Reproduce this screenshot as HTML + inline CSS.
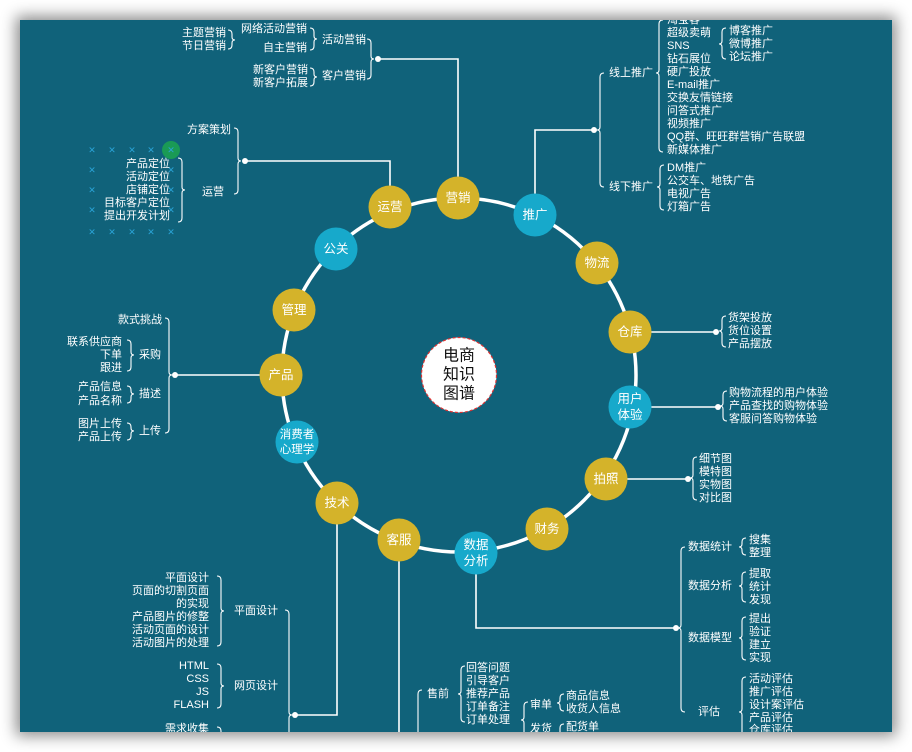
<!DOCTYPE html>
<html><head><meta charset="utf-8"><style>
html,body{margin:0;padding:0;background:#fff;width:912px;height:752px;overflow:hidden;}
#wrap{position:relative;width:912px;height:752px;overflow:hidden;background:#fff;}
#panel{position:absolute;left:20px;top:20px;width:872px;height:712px;background:#10627a;box-shadow:0 0 14px 4px rgba(0,0,0,0.45);}
svg{position:absolute;left:0;top:0;display:block;}
text{font-family:"Liberation Sans","Noto Sans CJK SC",sans-serif;fill:#fff;font-size:11px;dominant-baseline:central;}
.n{font-size:12.5px;text-anchor:middle;}
.e{text-anchor:end;}
.l{stroke:#fff;stroke-width:1.6;fill:none;}
.b{stroke:#fff;stroke-width:1.1;fill:none;}
.x{fill:#2aa3d6;font-size:9px;text-anchor:middle;}
</style></head><body><div id="wrap"><div id="panel"></div>
<svg width="912" height="752" viewBox="0 0 912 752">
<defs><clipPath id="c"><rect x="20" y="20" width="872" height="712"/></clipPath></defs>
<g clip-path="url(#c)">
<path class="l" d="M458 177 V59 H378"/>
<path class="l" d="M390 186 V161 H245"/>
<path class="l" d="M535 194 V130 H594"/>
<path class="l" d="M651 332 H716"/>
<path class="l" d="M651 407 H718"/>
<path class="l" d="M627 479 H688"/>
<path class="l" d="M476 574 V628 H676"/>
<path class="l" d="M260 375 H175"/>
<path class="l" d="M337 524 V715 H295"/>
<path class="l" d="M399 561 V732"/>
<g fill="#fff"><circle cx="378" cy="59" r="3"/><circle cx="245" cy="161" r="3"/><circle cx="594" cy="130" r="3"/><circle cx="716" cy="332" r="3"/><circle cx="718" cy="407" r="3"/><circle cx="688" cy="479" r="3"/><circle cx="676" cy="628" r="3"/><circle cx="175" cy="375" r="3"/><circle cx="295" cy="715" r="3"/></g>
<g class="b">
<path d="M367 39 Q371 39 371 43 L371 56 Q371 59 374 59 Q371 59 371 62 L371 75 Q371 79 367 79"/>
<path d="M310 28 Q314 28 314 32 L314 36 Q314 39 317 39 Q314 39 314 42 L314 46 Q314 50 310 50"/>
<path d="M228 30 Q232 30 232 34 L232 37 Q232 40 235 40 Q232 40 232 43 L232 45 Q232 49 228 49"/>
<path d="M310 68 Q314 68 314 72 L314 74 Q314 77 317 77 Q314 77 314 80 L314 82 Q314 86 310 86"/>
<path d="M234 128 Q238 128 238 132 L238 158 Q238 161 241 161 Q238 161 238 164 L238 190 Q238 194 234 194"/>
<path d="M178 158 Q182 158 182 162 L182 187 Q182 190 185 190 Q182 190 182 193 L182 218 Q182 222 178 222"/>
<path d="M165 318 Q169 318 169 322 L169 372 Q169 375 172 375 Q169 375 169 378 L169 429 Q169 433 165 433"/>
<path d="M127 340 Q131 340 131 344 L131 352 Q131 355 134 355 Q131 355 131 358 L131 367 Q131 371 127 371"/>
<path d="M127 386 Q131 386 131 390 L131 391 Q131 394 134 394 Q131 394 131 397 L131 399 Q131 403 127 403"/>
<path d="M127 423 Q131 423 131 427 L131 428 Q131 431 134 431 Q131 431 131 434 L131 436 Q131 440 127 440"/>
<path d="M285 610 Q289 610 289 614 L289 712 Q289 715 292 715 Q289 715 289 718 L289 732"/>
<path d="M217 576 Q221 576 221 580 L221 608 Q221 611 224 611 Q221 611 221 614 L221 642 Q221 646 217 646"/>
<path d="M217 664 Q221 664 221 668 L221 683 Q221 686 224 686 Q221 686 221 689 L221 704 Q221 708 217 708"/>
<path d="M217 727 Q221 727 221 731 L221 732"/>
</g>
<g class="b">
<path d="M604 73 Q600 73 600 77 L600 127 Q600 130 597 130 Q600 130 600 133 L600 183 Q600 187 604 187"/>
<path d="M663 20 Q659 20 659 24 L659 70 Q659 73 656 73 Q659 73 659 76 L659 148 Q659 152 663 152"/>
<path d="M726 28 Q722 28 722 32 L722 41 Q722 44 719 44 Q722 44 722 47 L722 55 Q722 59 726 59"/>
<path d="M664 165 Q660 165 660 169 L660 184 Q660 187 657 187 Q660 187 660 190 L660 206 Q660 210 664 210"/>
<path d="M726 316 Q722 316 722 320 L722 328 Q722 331 719 331 Q722 331 722 334 L722 343 Q722 347 726 347"/>
<path d="M727 391 Q723 391 723 395 L723 403 Q723 406 720 406 Q723 406 723 409 L723 417 Q723 421 727 421"/>
<path d="M697 457 Q693 457 693 461 L693 475 Q693 478 690 478 Q693 478 693 481 L693 496 Q693 500 697 500"/>
<path d="M685 547 Q681 547 681 551 L681 625 Q681 628 678 628 Q681 628 681 631 L681 708 Q681 712 685 712"/>
<path d="M746 538 Q742 538 742 542 L742 544 Q742 547 739 547 Q742 547 742 550 L742 551 Q742 555 746 555"/>
<path d="M746 572 Q742 572 742 576 L742 583 Q742 586 739 586 Q742 586 742 589 L742 598 Q742 602 746 602"/>
<path d="M746 617 Q742 617 742 621 L742 635 Q742 638 739 638 Q742 638 742 641 L742 656 Q742 660 746 660"/>
<path d="M746 677 Q742 677 742 681 L742 709 Q742 712 739 712 Q742 712 742 715 L742 732"/>
<path d="M422 690 Q418 690 418 694 L418 732"/>
<path d="M465 666 Q461 666 461 670 L461 691 Q461 694 458 694 Q461 694 461 697 L461 718 Q461 722 465 722"/>
<path d="M528 702 Q524 702 524 706 L524 717 Q524 720 521 720 Q524 720 524 723 L524 732"/>
<path d="M564 694 Q560 694 560 698 L560 700 Q560 703 557 703 Q560 703 560 706 L560 707 Q560 711 564 711"/>
<path d="M564 724 Q560 724 560 728 L560 732"/>
</g>
<circle cx="459" cy="375" r="177" stroke="#fff" stroke-width="3.5" fill="none"/>
<g>
<circle cx="458" cy="198" r="21.5" fill="#d4b32a"/><text class="n" x="458" y="198">营销</text>
<circle cx="390" cy="207" r="21.5" fill="#d4b32a"/><text class="n" x="390" y="207">运营</text>
<circle cx="535" cy="215" r="21.5" fill="#17a9cb"/><text class="n" x="535" y="215">推广</text>
<circle cx="336" cy="249" r="21.5" fill="#17a9cb"/><text class="n" x="336" y="249">公关</text>
<circle cx="597" cy="263" r="21.5" fill="#d4b32a"/><text class="n" x="597" y="263">物流</text>
<circle cx="294" cy="310" r="21.5" fill="#d4b32a"/><text class="n" x="294" y="310">管理</text>
<circle cx="630" cy="332" r="21.5" fill="#d4b32a"/><text class="n" x="630" y="332">仓库</text>
<circle cx="281" cy="375" r="21.5" fill="#d4b32a"/><text class="n" x="281" y="375">产品</text>
<circle cx="630" cy="407" r="21.5" fill="#17a9cb"/><text class="n" x="630" y="399">用户</text><text class="n" x="630" y="415">体验</text>
<circle cx="297" cy="442" r="21.5" fill="#17a9cb"/><text class="n" x="297" y="435" style="font-size:11.5px">消费者</text><text class="n" x="297" y="450" style="font-size:11.5px">心理学</text>
<circle cx="606" cy="479" r="21.5" fill="#d4b32a"/><text class="n" x="606" y="479">拍照</text>
<circle cx="337" cy="503" r="21.5" fill="#d4b32a"/><text class="n" x="337" y="503">技术</text>
<circle cx="547" cy="529" r="21.5" fill="#d4b32a"/><text class="n" x="547" y="529">财务</text>
<circle cx="399" cy="540" r="21.5" fill="#d4b32a"/><text class="n" x="399" y="540">客服</text>
<circle cx="476" cy="553" r="21.5" fill="#17a9cb"/><text class="n" x="476" y="545">数据</text><text class="n" x="476" y="561">分析</text>
<circle cx="459" cy="375" r="37.5" fill="#fff" stroke="#d33" stroke-width="1.2" stroke-dasharray="3,2"/>
<text class="n" x="459" y="356" style="fill:#111;font-size:16px">电商</text>
<text class="n" x="459" y="375" style="fill:#111;font-size:16px">知识</text>
<text class="n" x="459" y="394" style="fill:#111;font-size:16px">图谱</text>
</g>
<circle cx="171" cy="150" r="9" fill="#1a9a55"/>
<g>
<text class="x" x="92" y="150">✕</text><text class="x" x="112" y="150">✕</text><text class="x" x="132" y="150">✕</text><text class="x" x="151" y="150">✕</text><text class="x" x="171" y="150">✕</text>
<text class="x" x="92" y="170">✕</text><text class="x" x="171" y="170">✕</text>
<text class="x" x="92" y="190">✕</text><text class="x" x="171" y="190">✕</text>
<text class="x" x="92" y="210">✕</text><text class="x" x="171" y="210">✕</text>
<text class="x" x="92" y="232">✕</text><text class="x" x="112" y="232">✕</text><text class="x" x="132" y="232">✕</text><text class="x" x="151" y="232">✕</text><text class="x" x="171" y="232">✕</text>
</g>
<g>
<text x="322" y="40">活动营销</text><text x="322" y="76">客户营销</text>
<text class="e" x="307" y="29">网络活动营销</text><text class="e" x="307" y="48">自主营销</text>
<text class="e" x="226" y="33">主题营销</text><text class="e" x="226" y="46">节日营销</text>
<text class="e" x="308" y="70">新客户营销</text><text class="e" x="308" y="83">新客户拓展</text>
<text class="e" x="231" y="130">方案策划</text><text class="e" x="224" y="192">运营</text>
<text class="e" x="170" y="164">产品定位</text><text class="e" x="170" y="177">活动定位</text><text class="e" x="170" y="190">店铺定位</text><text class="e" x="170" y="203">目标客户定位</text><text class="e" x="170" y="216">提出开发计划</text>
<text class="e" x="162" y="320">款式挑战</text><text class="e" x="161" y="355">采购</text><text class="e" x="161" y="394">描述</text><text class="e" x="161" y="431">上传</text>
<text class="e" x="122" y="342">联系供应商</text><text class="e" x="122" y="355">下单</text><text class="e" x="122" y="368">跟进</text>
<text class="e" x="122" y="387">产品信息</text><text class="e" x="122" y="401">产品名称</text>
<text class="e" x="122" y="424">图片上传</text><text class="e" x="122" y="437">产品上传</text>
<text x="234" y="611">平面设计</text><text x="234" y="686">网页设计</text>
<text class="e" x="209" y="578">平面设计</text><text class="e" x="209" y="591">页面的切割页面</text><text class="e" x="209" y="604">的实现</text><text class="e" x="209" y="617">产品图片的修整</text><text class="e" x="209" y="630">活动页面的设计</text><text class="e" x="209" y="643">活动图片的处理</text>
<text class="e" x="209" y="666">HTML</text><text class="e" x="209" y="679">CSS</text><text class="e" x="209" y="692">JS</text><text class="e" x="209" y="705">FLASH</text>
<text class="e" x="209" y="729">需求收集</text>
</g>
<g>
<text x="609" y="73">线上推广</text><text x="609" y="187">线下推广</text>
<text x="667" y="20">淘宝客</text><text x="667" y="33">超级卖萌</text><text x="667" y="46">SNS</text><text x="667" y="59">钻石展位</text><text x="667" y="72">硬广投放</text><text x="667" y="85">E-mail推广</text><text x="667" y="98">交换友情链接</text><text x="667" y="111">问答式推广</text><text x="667" y="124">视频推广</text><text x="667" y="137">QQ群、旺旺群营销广告联盟</text><text x="667" y="150">新媒体推广</text>
<text x="729" y="31">博客推广</text><text x="729" y="44">微博推广</text><text x="729" y="57">论坛推广</text>
<text x="667" y="168">DM推广</text><text x="667" y="181">公交车、地铁广告</text><text x="667" y="194">电视广告</text><text x="667" y="207">灯箱广告</text>
<text x="728" y="318">货架投放</text><text x="728" y="331">货位设置</text><text x="728" y="344">产品摆放</text>
<text x="729" y="393">购物流程的用户体验</text><text x="729" y="406">产品查找的购物体验</text><text x="729" y="419">客服问答购物体验</text>
<text x="699" y="459">细节图</text><text x="699" y="472">模特图</text><text x="699" y="485">实物图</text><text x="699" y="498">对比图</text>
<text x="688" y="547">数据统计</text><text x="688" y="586">数据分析</text><text x="688" y="638">数据模型</text><text x="698" y="712">评估</text>
<text x="749" y="540">搜集</text><text x="749" y="553">整理</text>
<text x="749" y="574">提取</text><text x="749" y="587">统计</text><text x="749" y="600">发现</text>
<text x="749" y="619">提出</text><text x="749" y="632">验证</text><text x="749" y="645">建立</text><text x="749" y="658">实现</text>
<text x="749" y="679">活动评估</text><text x="749" y="692">推广评估</text><text x="749" y="705">设计案评估</text><text x="749" y="718">产品评估</text><text x="749" y="730">仓库评估</text>
<text x="427" y="694">售前</text>
<text x="466" y="668">回答问题</text><text x="466" y="681">引导客户</text><text x="466" y="694">推荐产品</text><text x="466" y="707">订单备注</text><text x="466" y="720">订单处理</text>
<text x="530" y="705">审单</text><text x="530" y="729">发货</text>
<text x="566" y="696">商品信息</text><text x="566" y="709">收货人信息</text><text x="566" y="727">配货单</text>
</g>
</g>
</svg></div></body></html>
